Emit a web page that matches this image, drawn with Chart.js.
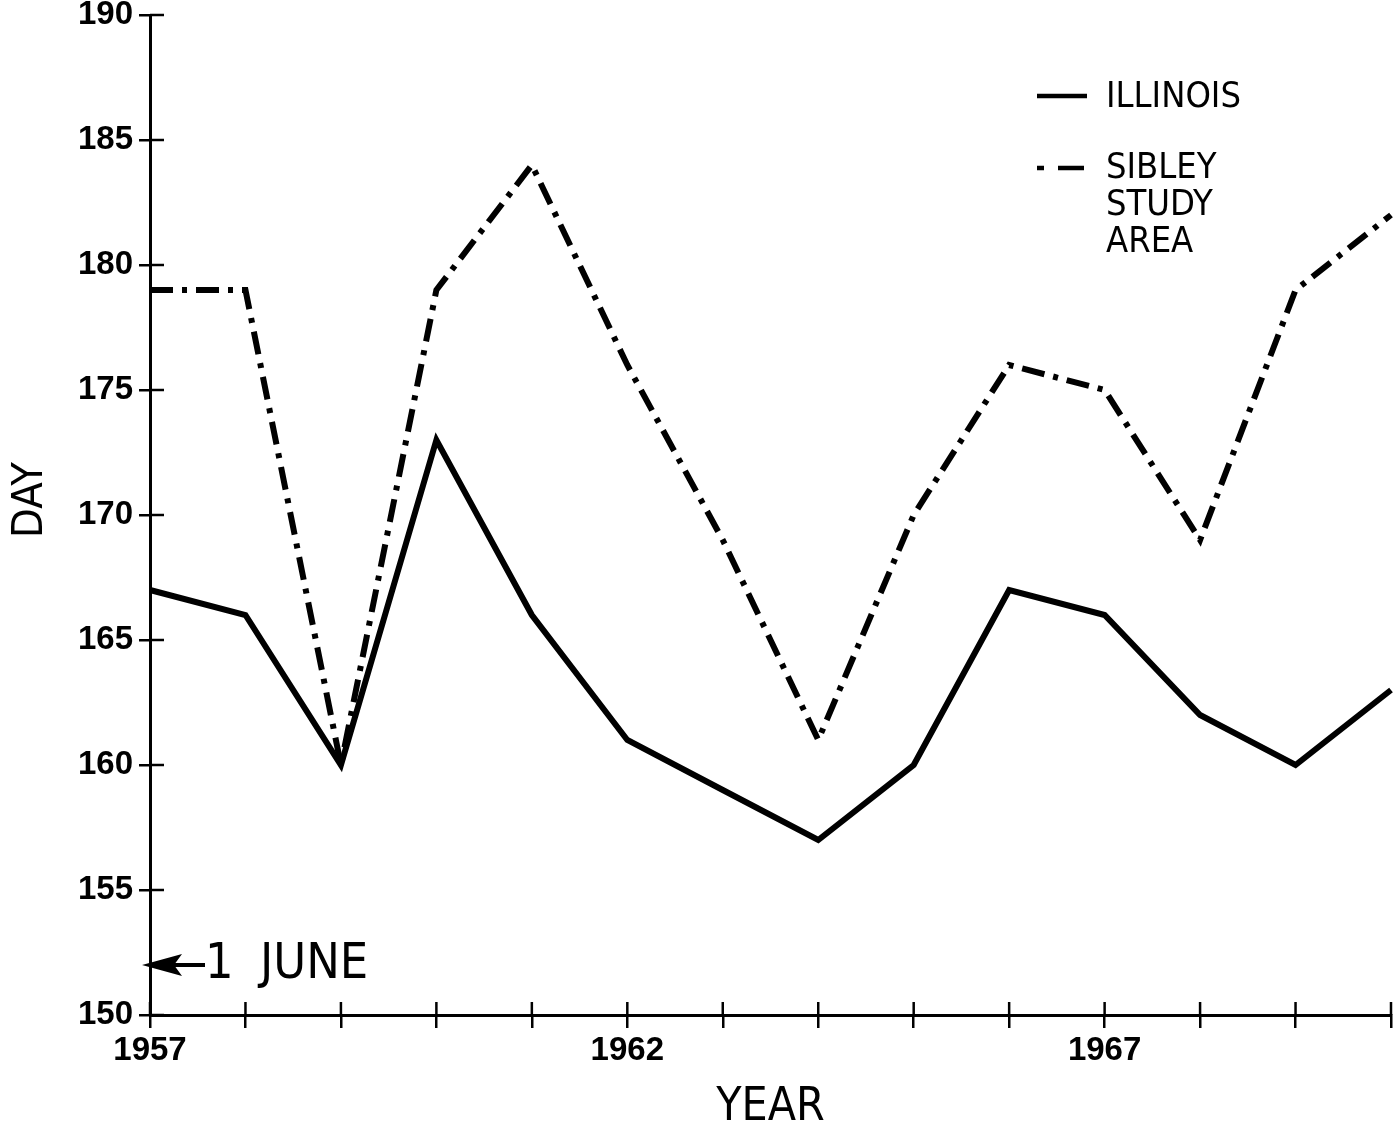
<!DOCTYPE html>
<html>
<head>
<meta charset="utf-8">
<title>Day vs Year — Illinois / Sibley Study Area</title>
<script src="https://cdn.jsdelivr.net/npm/chart.js@4.4.1/dist/chart.umd.min.js"></script>
<style>
  html, body { margin: 0; padding: 0; background: #fff; }
  #wrap { width: 1397px; height: 1125px; position: relative; }
</style>
</head>
<body>
<div id="wrap"><canvas id="day-chart"></canvas></div>
<script>
'use strict';

// --- data ---
const years    = [1957, 1958, 1959, 1960, 1961, 1962, 1963, 1964, 1965, 1966, 1967, 1968, 1969, 1970];
const illinois = [167, 166, 160, 173, 166, 161, 159, 157, 160, 167, 166, 162, 160, 163];
const sibley   = [179, 179, 160, 179, 184, 176, 169, 161, 170, 176, 175, 169, 179, 182];
const labelledYears = [1957, 1962, 1967];
const juneFirst = 152; // day of year of 1 June

const INK = '#000';
const TEXT_FONT = '"DejaVu Sans Condensed", "DejaVu Sans", sans-serif';
const TICK_FONT = '"Liberation Sans", Arial, sans-serif';
const SIBLEY_DASH = [23, 9, 5, 9];

// extra drawing: inner halves of the tick marks, DAY title, the 1 June arrow, the legend
const inkPlugin = {
  id: 'ink',
  afterDraw(chart) {
    const { ctx, chartArea, scales: { x, y } } = chart;
    ctx.save();
    ctx.strokeStyle = INK;
    ctx.fillStyle = INK;
    ctx.lineWidth = 2.5;

    y.ticks.forEach(t => {
      const py = y.getPixelForValue(t.value);
      ctx.beginPath();
      ctx.moveTo(chartArea.left, py);
      ctx.lineTo(chartArea.left + 14, py);
      ctx.stroke();
    });
    x.ticks.forEach((t, i) => {
      const px = x.getPixelForTick(i);
      ctx.beginPath();
      ctx.moveTo(px, chartArea.bottom);
      ctx.lineTo(px, chartArea.bottom - 13);
      ctx.stroke();
    });

    // y axis title
    ctx.save();
    ctx.translate(31, y.getPixelForValue(170) - 15);
    ctx.rotate(-Math.PI / 2);
    ctx.font = '43px ' + TEXT_FONT;
    ctx.textAlign = 'center';
    ctx.textBaseline = 'middle';
    ctx.fillText('DAY', 0, 0);
    ctx.restore();

    // 1 June arrow
    const jy = y.getPixelForValue(juneFirst);
    const tip = chartArea.left - 8;
    ctx.lineWidth = 4;
    ctx.beginPath();
    ctx.moveTo(tip + 20, jy);
    ctx.lineTo(chartArea.left + 55, jy);
    ctx.stroke();
    ctx.beginPath();
    ctx.moveTo(tip, jy);
    ctx.lineTo(tip + 40, jy - 11);
    ctx.lineTo(tip + 32, jy);
    ctx.lineTo(tip + 40, jy + 11);
    ctx.closePath();
    ctx.fill();
    ctx.font = '50px ' + TEXT_FONT;
    ctx.textBaseline = 'middle';
    ctx.textAlign = 'left';
    ctx.fillText('1', chartArea.left + 55, jy);
    ctx.fillText('JUNE', chartArea.left + 110, jy);

    // legend
    ctx.lineWidth = 4.5;
    ctx.beginPath();
    ctx.moveTo(1037, 96);
    ctx.lineTo(1087, 96);
    ctx.stroke();
    ctx.beginPath();
    ctx.moveTo(1037, 168);
    ctx.lineTo(1044, 168);
    ctx.moveTo(1058, 168);
    ctx.lineTo(1084, 168);
    ctx.stroke();

    ctx.font = '36px ' + TEXT_FONT;
    ctx.fillText('ILLINOIS', 1106, 98);
    ['SIBLEY', 'STUDY', 'AREA'].forEach((line, i) => {
      ctx.fillText(line, 1106, 169 + i * 37);
    });
    ctx.restore();
  }
};

const chart = new Chart(document.getElementById('day-chart'), {
  type: 'line',
  data: {
    labels: years,
    datasets: [
      {
        label: 'ILLINOIS',
        data: illinois,
        borderColor: INK,
        borderWidth: 6,
        pointRadius: 0,
        tension: 0,
      },
      {
        label: 'SIBLEY STUDY AREA',
        data: sibley,
        borderColor: INK,
        borderWidth: 6,
        borderDash: SIBLEY_DASH,
        pointRadius: 0,
        tension: 0,
      },
    ],
  },
  options: {
    responsive: true,
    maintainAspectRatio: false,
    animation: false,
    layout: { padding: { top: 15, right: 4, bottom: 0, left: 0 } },
    plugins: {
      legend: { display: false },
      tooltip: { enabled: false },
    },
    scales: {
      x: {
        offset: false,
        border: { display: true, color: INK, width: 3 },
        grid: { display: true, drawOnChartArea: false, drawTicks: true, tickLength: 13, color: INK, lineWidth: 2.5 },
        ticks: {
          autoSkip: false,
          maxRotation: 0,
          padding: 6,
          color: INK,
          font: { family: TICK_FONT, size: 33, weight: 'bold', lineHeight: 1 },
          callback(value) {
            const yr = this.getLabelForValue(value);
            return labelledYears.includes(yr) ? String(yr) : '';
          },
        },
        title: {
          display: true,
          text: 'YEAR',
          color: INK,
          padding: { top: 0, bottom: 0 },
          font: { family: TEXT_FONT, size: 46, lineHeight: 0.75 },
        },
        afterFit(scale) { scale.height = 110; },
      },
      y: {
        min: 150,
        max: 190,
        border: { display: true, color: INK, width: 3 },
        grid: { display: true, drawOnChartArea: false, drawTicks: true, tickLength: 11, color: INK, lineWidth: 2.5 },
        ticks: {
          stepSize: 5,
          padding: 6,
          color: INK,
          font: { family: TICK_FONT, size: 33, weight: 'bold', lineHeight: 0.5 },
        },
        afterFit(scale) { scale.width = 150; },
      },
    },
  },
  plugins: [inkPlugin],
});
</script>
</body>
</html>
